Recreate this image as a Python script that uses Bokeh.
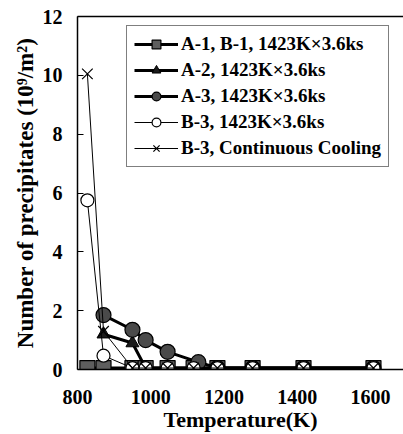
from bokeh.plotting import figure
from bokeh.models import Range1d, FixedTicker, LinearAxis, Legend, LegendItem
from bokeh.embed import file_html
from bokeh.resources import INLINE

# ---- data ----
t_a1 = [827, 871, 950, 986, 1046, 1117, 1182, 1278, 1417, 1608]
n_a1 = [0.05, 0.05, 0.05, 0.05, 0.05, 0.05, 0.05, 0.05, 0.05, 0.05]

t_a2 = [871, 950, 986, 1046, 1117, 1182, 1278, 1417, 1608]
n_a2 = [1.2, 0.9, 0.05, 0.05, 0.05, 0.05, 0.05, 0.05, 0.05]

t_a3 = [871, 950, 986, 1046, 1130, 1182, 1278, 1417, 1608]
n_a3 = [1.85, 1.35, 1.0, 0.6, 0.25, 0.05, 0.05, 0.05, 0.05]

t_b3 = [827, 871, 950, 986, 1046, 1117, 1182, 1278, 1417, 1608]
n_b3 = [5.75, 0.47, 0.05, 0.05, 0.05, 0.05, 0.05, 0.05, 0.05, 0.05]

t_cc = [827, 871, 950, 986, 1046, 1117, 1182, 1278, 1417, 1608]
n_cc = [10.05, 1.3, 0.05, 0.05, 0.05, 0.05, 0.05, 0.05, 0.05, 0.05]

labels = ["A-1, B-1, 1423K×3.6ks", "A-2, 1423K×3.6ks", "A-3, 1423K×3.6ks",
          "B-3, 1423K×3.6ks", "B-3, Continuous Cooling"]
x_ticks = [800, 1000, 1200, 1400, 1600]
y_ticks = [0, 2, 4, 6, 8, 10, 12]

FONT = "Liberation Serif"

p = figure(width=403, height=434, x_range=Range1d(800, 1690), y_range=Range1d(0, 12),
           output_backend="svg", toolbar_location=None,
           min_border_left=77, min_border_right=0, min_border_top=16, min_border_bottom=63)
p.outline_line_color = None
p.grid.visible = False
p.background_fill_color = "white"

# axes
for ax in (p.xaxis[0], p.yaxis[0]):
    ax.axis_line_color = "black"
    ax.axis_line_width = 1.5
    ax.minor_tick_line_color = None
    ax.major_label_text_font = FONT
    ax.major_label_text_font_style = "bold"
    ax.major_label_text_font_size = "20px"
    ax.major_label_text_color = "black"
    ax.axis_label_text_font = FONT
    ax.axis_label_text_font_style = "bold"
    ax.axis_label_text_color = "black"
    ax.major_tick_out = 0

p.xaxis.ticker = FixedTicker(ticks=x_ticks)
p.xaxis.major_tick_in = 0
p.xaxis.major_label_standoff = 20
p.xaxis.axis_label = "Temperature(K)"
p.xaxis.axis_label_text_font_size = "22px"
p.xaxis.axis_label_standoff = 0

p.yaxis.ticker = FixedTicker(ticks=y_ticks)
p.yaxis.major_tick_in = 6
p.yaxis.major_tick_line_width = 1
p.yaxis.major_label_standoff = 15
p.yaxis.axis_label = "Number of precipitates (10⁹/m²)"
p.yaxis.axis_label_text_font_size = "23px"
p.yaxis.axis_label_standoff = 2

top = LinearAxis(ticker=FixedTicker(ticks=[]), axis_line_color="black", axis_line_width=1.5,
                 major_tick_line_color=None, minor_tick_line_color=None,
                 major_label_text_font_size="0px")
p.add_layout(top, "above")

# data series (drawing order: squares, triangles, filled circles, open circles, crosses)
l1 = p.line(t_a1, n_a1, line_color="black", line_width=3)
m1 = p.scatter(t_a1, n_a1, marker="square", size=15, fill_color="#5e5e5e", line_color="black", line_width=1.2)

l2 = p.line(t_a2, n_a2, line_color="black", line_width=3)
m2 = p.scatter(t_a2, n_a2, marker="triangle", size=13, fill_color="#1a1a1a", line_color="black", line_width=1)

l3 = p.line(t_a3, n_a3, line_color="black", line_width=3)
m3 = p.scatter(t_a3, n_a3, marker="circle", size=15, fill_color="#4a4a4a", line_color="black", line_width=1.2)

l4 = p.line(t_b3, n_b3, line_color="black", line_width=1)
m4 = p.scatter(t_b3, n_b3, marker="circle", size=13, fill_color="white", line_color="black", line_width=1.2)

l5 = p.line(t_cc, n_cc, line_color="black", line_width=1)
m5 = p.scatter(t_cc, n_cc, marker="x", size=15, line_color="black", line_width=1.2)

items = [LegendItem(label=lab, renderers=[lr, mr])
         for lab, lr, mr in zip(labels, [l1, l2, l3, l4, l5], [m1, m2, m3, m4, m5])]

legend = Legend(items=items, location=(49, 202), orientation="vertical",
                label_text_font=FONT, label_text_font_style="bold", label_text_font_size="19px",
                label_text_color="black", glyph_width=44, glyph_height=22, label_height=22,
                label_standoff=3, spacing=4, padding=7, margin=0,
                border_line_color="black", border_line_width=1.5,
                background_fill_color="white", background_fill_alpha=1.0)
p.add_layout(legend, "center")

open("out.html", "w").write(file_html(p, INLINE))
